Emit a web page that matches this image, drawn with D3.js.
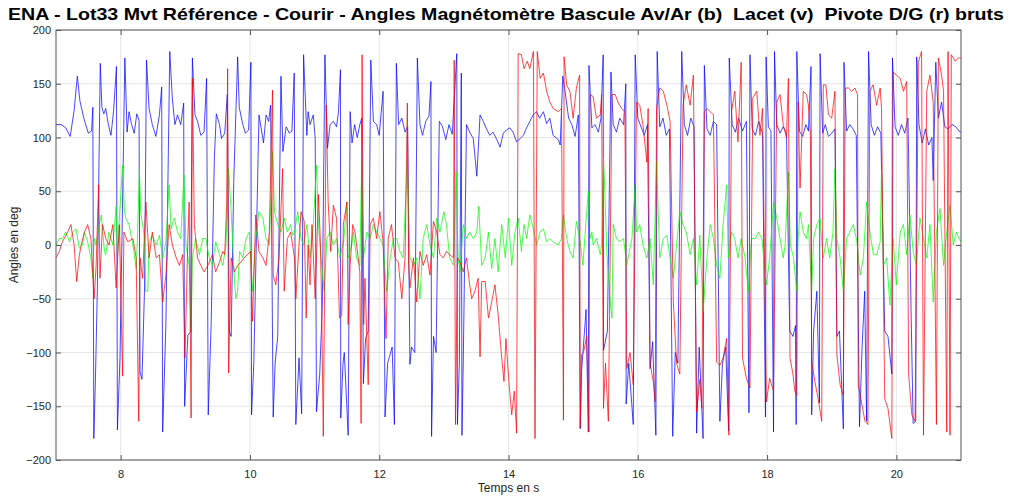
<!DOCTYPE html>
<html>
<head>
<meta charset="utf-8">
<title></title>
<script src="https://cdnjs.cloudflare.com/ajax/libs/d3/7.8.5/d3.min.js"></script>
<style type="text/css">
	body{
		margin: 0;
		padding: 0;
		background: #fff;
	}
	svg{
		display: block;
		font-family: "Liberation Sans", Arial, sans-serif;
	}
</style>
</head>
<body>
<svg id="svg" width="1011" height="499"></svg>
<script type="text/javascript">
// axes
const xTicks = [8, 10, 12, 14, 16, 18, 20];
const yTicks = [-200, -150, -100, -50, 0, 50, 100, 150, 200];
const xDomain = [7, 21];
const yDomain = [-200, 200];

// Bascule Av/Ar (b) : [temps s, angle deg]
const bascule = [
[7.00,112],[7.08,112],[7.15,109],[7.22,101],[7.28,125],[7.33,157],[7.37,134],[7.43,118],[7.50,104],[7.55,106],[7.57,128],
[7.585,-180],[7.61,-125],[7.64,-40],[7.685,169],[7.71,128],[7.74,122],[7.77,127],[7.81,112],[7.85,102],[7.89,124],[7.935,166],
[7.95,-172],[7.99,-105],[8.03,40],[8.065,174],[8.10,105],[8.13,124],[8.17,112],[8.21,104],[8.25,122],[8.285,116],
[8.30,-118],[8.33,-125],[8.37,-40],[8.40,172],[8.44,127],[8.49,112],[8.545,101],[8.60,121],[8.635,147],
[8.65,-174],[8.70,-74],[8.76,180],[8.80,136],[8.84,112],[8.88,121],[8.93,112],[8.975,132],
[8.99,-150],[9.04,-84],[9.08,-81],[9.11,174],[9.15,121],[9.19,115],[9.24,102],[9.29,105],[9.33,155],
[9.355,-158],[9.40,-74],[9.45,81],[9.48,122],[9.53,112],[9.56,99],[9.61,104],[9.65,140],
[9.68,-80],[9.71,-85],[9.75,60],[9.81,175],[9.835,128],[9.89,112],[9.93,104],[9.98,107],[10.015,170],
[10.025,-158],[10.06,-110],[10.14,121],[10.17,110],[10.21,95],[10.25,121],[10.29,115],[10.32,130],
[10.36,-160],[10.39,-110],[10.43,-85],[10.48,157],[10.51,87],[10.56,110],[10.61,104],[10.65,106],[10.685,160],
[10.71,-167],[10.76,-105],[10.80,-157],[10.83,177],[10.88,102],[10.90,124],[10.93,112],[10.98,121],[11.01,99],
[11.03,-155],[11.08,-120],[11.12,-55],[11.16,177],[11.20,90],[11.24,112],[11.29,115],[11.34,110],[11.37,124],[11.40,163],
[11.405,-161],[11.44,-110],[11.46,-100],[11.52,-177],[11.55,124],[11.58,95],[11.62,112],[11.66,100],[11.70,112],[11.73,118],
[11.755,-129],[11.79,-87],[11.83,-80],[11.87,172],[11.91,115],[11.96,112],[12.00,102],[12.06,143],
[12.09,-160],[12.13,-110],[12.20,-95],[12.235,-167],[12.265,169],[12.30,112],[12.35,118],[12.40,105],[12.44,110],
[12.475,-111],[12.50,-95],[12.55,-100],[12.59,174],[12.63,112],[12.67,102],[12.72,115],[12.77,120],[12.80,152],
[12.81,-178],[12.84,-85],[12.88,-100],[12.93,115],[12.98,110],[13.03,98],[13.08,112],[13.13,103],[13.20,178],
[13.21,-167],[13.24,-110],[13.27,160],[13.28,-177],[13.30,-109],[13.35,112],[13.40,105],[13.455,99],[13.51,64],
[13.56,121],[13.61,115],[13.66,108],[13.71,102],[13.76,105],[13.82,98],[13.87,91],[13.92,104],[13.97,107],[14.02,109],
[14.07,105],[14.125,96],[14.18,99],[14.23,102],[14.28,109],[14.33,115],[14.38,121],[14.435,124],[14.48,118],[14.54,124],
[14.59,113],[14.64,118],[14.69,102],[14.77,98],[14.80,93],[14.84,157],[14.875,143],[14.93,118],[14.98,112],[15.03,101],[15.08,121],
[15.11,-171],[15.13,-118],[15.20,-60],[15.235,-174],[15.245,167],[15.29,109],[15.34,112],[15.39,105],[15.43,118],[15.465,177],
[15.47,-98],[15.53,-80],[15.585,161],[15.62,112],[15.67,105],[15.72,118],[15.78,112],[15.815,150],
[15.82,-148],[15.86,-110],[15.93,-167],[15.96,177],[16.00,118],[16.05,110],[16.10,102],[16.15,112],
[16.19,-115],[16.23,-90],[16.28,-177],[16.30,180],[16.34,110],[16.39,118],[16.44,102],[16.49,108],
[16.54,-178],[16.58,-100],[16.62,-110],[16.68,180],[16.72,112],[16.77,102],[16.82,118],[16.87,110],
[16.91,-175],[16.95,-95],[17.01,-180],[17.03,167],[17.07,108],[17.12,102],[17.17,115],[17.22,112],
[17.27,-164],[17.31,-110],[17.36,-95],[17.405,-173],[17.415,174],[17.46,112],[17.51,105],[17.56,118],[17.62,106],[17.68,115],
[17.72,-156],[17.735,177],[17.77,108],[17.82,102],[17.87,115],[17.93,104],[17.975,-160],[17.985,175],[18.02,110],[18.06,106],
[18.10,-174],[18.115,180],[18.15,112],[18.20,104],[18.25,110],[18.30,104],[18.35,-80],[18.40,-85],[18.44,-75],
[18.45,-167],[18.46,180],[18.50,106],[18.55,101],[18.60,112],[18.64,106],[18.68,166],
[18.69,-158],[18.72,-80],[18.77,-43],[18.81,-147],[18.82,178],[18.86,104],[18.90,112],[18.95,101],[19.00,104],[19.05,108],
[19.08,-85],[19.12,-80],[19.18,-171],[19.19,170],[19.23,106],[19.28,112],[19.33,108],[19.38,102],
[19.43,-169],[19.47,-95],[19.51,-43],[19.54,-164],[19.57,180],[19.61,112],[19.66,102],[19.71,110],[19.76,104],
[19.82,-80],[19.87,-85],[19.93,-120],[19.94,174],[19.98,110],[20.03,102],[20.08,112],[20.13,104],[20.18,118],
[20.23,-70],[20.26,-166],[20.30,-164],[20.315,175],[20.35,112],[20.40,95],[20.45,108],[20.50,93],[20.55,100],[20.57,60],
[20.61,170],[20.65,118],[20.70,133],[20.75,110],[20.80,108],[20.86,112],[20.92,110],[20.97,106],[21.00,105]
];

// Lacet (v)
const lacet = [
[7.00,0],[7.05,6],[7.10,6],[7.15,12],[7.21,3],[7.26,12],[7.31,15],[7.36,-3],[7.41,0],[7.44,12],[7.49,3],[7.54,-12],[7.57,-31],
[7.59,6],[7.62,0],[7.67,19],[7.70,28],[7.75,-6],[7.77,-9],[7.82,12],[7.88,0],[7.93,36],[7.95,-12],[7.98,25],[8.03,74],[8.06,31],
[8.08,25],[8.13,19],[8.19,0],[8.24,-22],[8.26,6],[8.29,71],[8.31,31],[8.37,6],[8.39,-43],[8.42,-43],[8.44,3],[8.49,9],[8.55,0],
[8.60,9],[8.65,-12],[8.70,3],[8.75,56],[8.78,15],[8.83,25],[8.88,12],[8.93,6],[8.98,65],[9.01,0],[9.06,-19],[9.09,-81],[9.11,-12],
[9.16,6],[9.22,-9],[9.27,6],[9.32,6],[9.37,-12],[9.42,-19],[9.47,3],[9.53,-9],[9.58,-19],[9.63,0],[9.67,71],[9.71,31],[9.76,-31],
[9.78,-50],[9.81,-43],[9.84,-6],[9.89,-12],[9.94,6],[9.99,12],[10.04,-43],[10.09,6],[10.14,31],[10.20,25],[10.25,6],[10.30,0],
[10.35,87],[10.38,31],[10.43,19],[10.48,12],[10.53,25],[10.58,12],[10.63,19],[10.66,9],[10.69,12],[10.74,31],[10.79,6],[10.83,0],
[10.88,19],[10.93,-12],[10.98,19],[11.03,74],[11.06,19],[11.10,-12],[11.15,-43],[11.19,6],[11.24,12],[11.29,0],[11.34,6],
[11.39,-12],[11.45,3],[11.50,40],[11.52,-12],[11.575,0],[11.60,12],[11.65,-12],[11.70,-19],[11.73,78],[11.755,-12],[11.81,12],
[11.86,6],[11.91,19],[11.96,12],[12.01,6],[12.06,0],[12.115,-43],[12.17,-12],[12.22,6],[12.27,6],[12.32,-6],[12.37,-12],
[12.435,78],[12.475,-12],[12.53,-19],[12.58,-12],[12.63,-50],[12.68,6],[12.735,19],[12.785,0],[12.84,-12],[12.89,25],[12.94,12],
[13.00,31],[13.04,19],[13.09,-12],[13.15,-19],[13.19,68],[13.22,-12],[13.25,-25],[13.30,19],[13.35,6],[13.40,12],[13.455,6],
[13.51,12],[13.54,36],[13.585,-19],[13.64,-12],[13.69,12],[13.74,-22],[13.79,6],[13.84,-25],[13.895,19],[13.95,-12],[14.00,25],
[14.05,-19],[14.10,12],[14.15,25],[14.20,-6],[14.24,19],[14.28,6],[14.33,28],[14.385,15],[14.435,0],[14.485,12],[14.54,15],
[14.59,3],[14.64,6],[14.69,3],[14.77,0],[14.82,6],[14.85,28],[14.90,6],[14.95,-6],[15.00,-12],[15.05,22],[15.11,3],[15.15,-19],
[15.18,6],[15.235,50],[15.26,6],[15.29,12],[15.31,0],[15.36,6],[15.42,-9],[15.44,0],[15.47,81],[15.49,50],[15.52,-6],[15.57,-50],
[15.60,-68],[15.62,19],[15.67,6],[15.72,3],[15.78,6],[15.83,-19],[15.85,-12],[15.91,6],[15.96,56],[15.98,12],[16.03,19],[16.08,0],
[16.14,-12],[16.19,6],[16.24,-37],[16.29,78],[16.34,-12],[16.395,6],[16.45,9],[16.50,-12],[16.55,-31],[16.60,0],[16.65,31],
[16.70,19],[16.75,12],[16.81,-9],[16.86,6],[16.91,-37],[16.96,9],[17.01,-62],[17.07,-12],[17.12,19],[17.17,6],[17.22,-19],
[17.27,-31],[17.32,19],[17.375,56],[17.40,-12],[17.45,12],[17.50,6],[17.55,-12],[17.60,6],[17.66,-12],[17.71,-43],[17.76,6],
[17.82,6],[17.865,12],[17.92,6],[17.97,-25],[17.99,-37],[18.04,-12],[18.10,40],[18.15,25],[18.20,6],[18.25,-12],[18.28,0],
[18.33,68],[18.36,0],[18.41,-12],[18.46,-43],[18.48,6],[18.51,31],[18.56,12],[18.61,6],[18.64,19],[18.69,-43],[18.72,6],
[18.77,19],[18.82,25],[18.85,0],[18.87,-12],[18.92,6],[18.97,-12],[19.02,12],[19.05,71],[19.08,6],[19.13,-12],[19.18,-43],
[19.23,6],[19.28,12],[19.335,19],[19.39,3],[19.44,-28],[19.49,-12],[19.54,40],[19.59,12],[19.645,-9],[19.695,-9],[19.75,3],
[19.77,70],[19.80,-19],[19.85,-12],[19.90,-56],[19.95,6],[20.00,-37],[20.06,12],[20.11,19],[20.16,-9],[20.21,28],[20.26,-6],
[20.31,-19],[20.365,25],[20.42,6],[20.47,-12],[20.52,19],[20.57,-53],[20.62,12],[20.675,34],[20.73,-19],[20.78,12],[20.83,37],
[20.88,0],[20.93,12],[20.97,6],[21.00,3]
];

// Pivote D/G (r)
const pivote = [
[7.00,-12],[7.05,-6],[7.10,3],[7.18,12],[7.23,19],[7.28,0],[7.32,-34],[7.36,-10],[7.39,0],[7.44,12],[7.49,19],[7.54,6],
[7.59,-50],[7.62,-20],[7.66,56],[7.68,-31],[7.72,19],[7.77,6],[7.82,0],[7.88,19],[7.93,-40],[7.98,19],[8.03,-122],[8.05,12],
[8.11,3],[8.19,6],[8.24,-12],[8.28,-164],[8.30,-12],[8.34,-31],[8.39,40],[8.44,-12],[8.49,12],[8.55,-12],[8.60,-9],[8.65,-53],
[8.70,-28],[8.75,19],[8.80,0],[8.86,-12],[8.91,-19],[8.96,-9],[8.995,-105],[9.04,6],[9.06,40],[9.09,-161],[9.11,155],[9.14,19],
[9.19,-12],[9.24,-19],[9.29,-25],[9.35,-19],[9.42,-9],[9.47,-25],[9.53,-16],[9.58,-6],[9.61,-9],[9.64,37],[9.655,164],[9.67,-119],
[9.71,-12],[9.76,-25],[9.81,-19],[9.86,-16],[9.91,-12],[9.96,-9],[10.01,-6],[10.04,-71],[10.09,28],[10.14,-6],[10.20,-12],
[10.25,-19],[10.30,12],[10.35,144],[10.36,-28],[10.40,-37],[10.45,-12],[10.505,71],[10.53,-43],[10.58,6],[10.63,12],[10.69,-12],
[10.71,-50],[10.79,31],[10.84,22],[10.87,-68],[10.90,0],[10.93,-37],[10.96,19],[11.01,-50],[11.06,47],[11.09,3],[11.11,-59],
[11.135,-178],[11.18,130],[11.21,40],[11.25,-6],[11.29,37],[11.34,25],[11.385,-68],[11.42,-65],[11.445,19],[11.50,40],[11.52,-74],
[11.55,-19],[11.59,19],[11.625,12],[11.675,-12],[11.70,-25],[11.72,-166],[11.735,177],[11.76,-74],[11.78,-31],[11.83,-130],
[11.86,19],[11.91,25],[11.96,6],[12.01,31],[12.06,3],[12.105,-87],[12.14,6],[12.19,19],[12.245,-12],[12.295,-16],[12.35,-50],
[12.40,-12],[12.435,132],[12.455,-19],[12.475,-40],[12.53,-12],[12.58,-53],[12.63,-6],[12.68,-19],[12.735,-9],[12.785,-28],
[12.84,22],[12.89,12],[12.94,-9],[12.99,-12],[13.04,-6],[13.09,-9],[13.15,-12],[13.16,172],[13.18,-167],[13.21,-12],[13.25,-16],
[13.30,-25],[13.35,-12],[13.40,-37],[13.43,-50],[13.48,-43],[13.53,-31],[13.56,-104],[13.585,-34],[13.64,-34],[13.69,-68],
[13.74,-53],[13.79,-37],[13.84,-65],[13.895,-105],[13.93,-127],[13.96,-87],[14.01,-130],[14.05,-158],[14.09,-136],[14.125,-175],
[14.15,178],[14.20,177],[14.24,164],[14.29,171],[14.33,164],[14.385,180],[14.41,-180],[14.445,180],[14.49,155],[14.54,160],
[14.59,143],[14.64,133],[14.69,127],[14.77,124],[14.82,127],[14.85,-163],[14.86,175],[14.90,149],[14.95,143],[15.00,118],
[15.05,146],[15.10,158],[15.11,-170],[15.13,-102],[15.16,-100],[15.21,-85],[15.245,-174],[15.26,140],[15.31,138],[15.36,118],
[15.42,121],[15.44,140],[15.47,-152],[15.50,-110],[15.545,-164],[15.60,140],[15.65,140],[15.70,132],[15.75,127],[15.80,124],
[15.83,-115],[15.88,-100],[15.93,-130],[15.98,133],[16.03,130],[16.08,112],[16.14,77],[16.16,127],[16.19,-110],[16.24,-127],
[16.27,-146],[16.29,127],[16.34,146],[16.395,143],[16.45,130],[16.50,115],[16.55,-53],[16.60,-110],[16.65,-120],[16.70,130],
[16.75,149],[16.81,130],[16.86,158],[16.91,-155],[16.96,-125],[16.99,-152],[17.03,124],[17.07,127],[17.12,124],[17.17,121],
[17.22,-109],[17.27,-112],[17.32,-105],[17.375,-87],[17.41,-177],[17.45,124],[17.50,143],[17.55,96],[17.60,170],[17.62,-105],
[17.68,-124],[17.735,-133],[17.78,137],[17.84,143],[17.89,102],[17.93,127],[17.99,-146],[18.04,-124],[18.10,-136],[18.15,133],
[18.20,140],[18.25,112],[18.30,100],[18.33,155],[18.355,-105],[18.40,-120],[18.43,-136],[18.46,-140],[18.48,133],[18.51,53],
[18.56,143],[18.61,140],[18.64,130],[18.67,102],[18.69,-109],[18.74,-127],[18.79,-143],[18.845,-164],[18.87,149],[18.91,149],
[18.95,121],[19.00,118],[19.05,143],[19.08,-102],[19.13,-130],[19.18,-140],[19.21,146],[19.26,146],[19.31,143],[19.36,146],
[19.40,140],[19.41,-130],[19.46,-146],[19.515,-164],[19.56,-167],[19.59,143],[19.64,149],[19.695,130],[19.75,146],[19.77,127],
[19.82,-143],[19.87,-152],[19.93,-180],[19.95,161],[20.00,158],[20.06,155],[20.11,143],[20.16,152],[20.19,-120],[20.24,-158],
[20.29,-164],[20.34,170],[20.39,180],[20.42,-177],[20.47,143],[20.52,158],[20.57,133],[20.62,-167],[20.65,174],[20.70,158],
[20.73,143],[20.78,-174],[20.80,180],[20.83,-177],[20.85,177],[20.91,171],[20.96,174],[21.00,174]
];

const title = "ENA - Lot33 Mvt Référence - Courir - Angles Magnétomètre Bascule Av/Ar (b)  Lacet (v)  Pivote D/G (r) bruts";

drawChart();

function drawChart(){
	let svg = d3.select('#svg');
	let left = 56, right = 961, top = 30, bottom = 460;
	let x = d3.scaleLinear().domain(xDomain).range([left, right]);
	let y = d3.scaleLinear().domain(yDomain).range([bottom, top]);
	let axisColor = '#262626';

	// grid
	let grid = svg.append('g').attr('class', 'grid');
	grid.selectAll('.gx').data(xTicks).enter().append('line')
		.attr('x1', d => x(d)).attr('x2', d => x(d))
		.attr('y1', top).attr('y2', bottom)
		.style('stroke', '#e6e6e6').style('stroke-width', 1);
	grid.selectAll('.gy').data(yTicks).enter().append('line')
		.attr('x1', left).attr('x2', right)
		.attr('y1', d => y(d)).attr('y2', d => y(d))
		.style('stroke', '#e6e6e6').style('stroke-width', 1);

	// series, plotted b, v, r
	let line = d3.line().x(d => x(d[0])).y(d => y(d[1]));
	svg.append('clipPath').attr('id', 'clip').append('rect')
		.attr('x', left).attr('y', top).attr('width', right - left).attr('height', bottom - top);
	let plot = svg.append('g').attr('clip-path', 'url(#clip)');
	[[bascule, '#0000ff'], [lacet, '#00ff00'], [pivote, '#ff0000']].forEach(function(s){
		plot.append('path')
			.datum(s[0])
			.attr('d', line)
			.style('fill', 'none')
			.style('stroke', s[1])
			.style('stroke-width', 1)
			.style('stroke-opacity', 0.72)
			.style('stroke-linejoin', 'round');
	});

	// axes, MATLAB style ticks inside
	let xb = svg.append('g').attr('transform', 'translate(0,' + bottom + ')')
		.call(d3.axisBottom(x).tickValues(xTicks).tickSizeInner(-5).tickSizeOuter(0).tickPadding(10));
	let xt = svg.append('g').attr('transform', 'translate(0,' + top + ')')
		.call(d3.axisTop(x).tickValues(xTicks).tickSizeInner(-5).tickSizeOuter(0).tickFormat(''));
	let yl = svg.append('g').attr('transform', 'translate(' + left + ',0)')
		.call(d3.axisLeft(y).tickValues(yTicks).tickSizeInner(-5).tickSizeOuter(0).tickPadding(5));
	let yr = svg.append('g').attr('transform', 'translate(' + right + ',0)')
		.call(d3.axisRight(y).tickValues(yTicks).tickSizeInner(-5).tickSizeOuter(0).tickFormat(''));
	[xb, xt, yl, yr].forEach(function(a){
		a.select('.domain').remove();
		a.selectAll('line').style('stroke', '#555');
		a.selectAll('text').style('font-size', '11px').style('fill', axisColor)
			.style('font-family', '"Liberation Sans", Arial, sans-serif');
	});

	// box
	svg.append('rect')
		.attr('x', left).attr('y', top)
		.attr('width', right - left).attr('height', bottom - top)
		.style('fill', 'none').style('stroke', '#555').style('stroke-width', 1);

	// labels
	svg.append('text')
		.attr('x', (left + right) / 2).attr('y', 492)
		.style('text-anchor', 'middle').style('font-size', '12px').style('fill', axisColor)
		.text('Temps en s');
	svg.append('text')
		.attr('transform', 'translate(18,' + ((top + bottom) / 2) + ') rotate(-90)')
		.style('text-anchor', 'middle').style('font-size', '12px').style('fill', axisColor)
		.text('Angles en deg');
	svg.append('text')
		.attr('x', 8).attr('y', 20)
		.attr('textLength', 996).attr('lengthAdjust', 'spacingAndGlyphs')
		.style('white-space', 'pre')
		.style('font-size', '17px').style('font-weight', 'bold').style('fill', '#000')
		.text(title);
}
</script>
</body>
</html>
